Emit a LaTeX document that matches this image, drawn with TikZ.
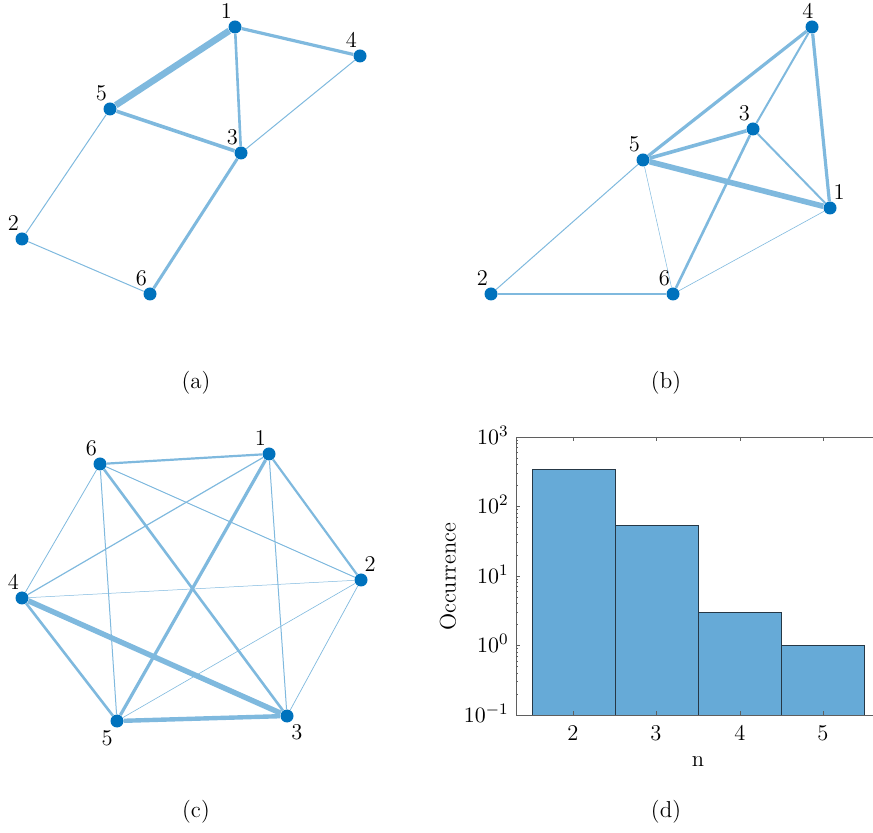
\documentclass[tikz,border=0pt]{standalone}
\usepackage{amsmath}
\usepackage{tikz}
\definecolor{nodeblue}{RGB}{0,114,189}
\definecolor{edgeblue}{RGB}{127,185,222}
\definecolor{barblue}{RGB}{102,170,215}
\definecolor{baredge}{RGB}{38,56,70}
\definecolor{axisgray}{RGB}{95,95,95}
\pgfdeclarelayer{edges}
\pgfsetlayers{edges,main}
\newcommand{\figfont}{\fontsize{11.25}{13.5}\selectfont}
\tikzset{
	vertex/.style={circle, fill=nodeblue, inner sep=0pt, minimum size=6.5pt},
	lbl/.style={inner sep=0.5pt, font=\figfont},
	lnw/.style={label={[lbl, xshift=1.6pt, yshift=1.1pt]above left:#1}},
	lne/.style={label={[lbl, xshift=-1.3pt, yshift=1.1pt]above right:#1}},
	lsw/.style={label={[lbl, xshift=1pt, yshift=-1.5pt]below left:#1}},
	lse/.style={label={[lbl, xshift=-1pt, yshift=-1.2pt]below right:#1}},
	link/.style={draw=edgeblue, line width=#1},
	caption/.style={font=\fontsize{11.5}{14}\selectfont}
}

\begin{document}
\begin{tikzpicture}[x=0.5pt, y=-0.5pt,
		bar/.style={fill=barblue, draw=baredge, line width=0.4pt},
		axis/.style={draw=axisgray, line width=0.35pt},
		ticklbl/.style={font=\figfont, inner sep=1pt}
		]
		\useasboundingbox (0,0) rectangle (873,833);
		
		% (a)
		\node[vertex, lnw=1] (a1) at (235,27) {};
		\node[vertex, lnw=2] (a2) at (22,239) {};
		\node[vertex, lnw=3] (a3) at (241,153) {};
		\node[vertex, lnw=4] (a4) at (360,56) {};
		\node[vertex, lnw=5] (a5) at (110,109) {};
		\node[vertex, lnw=6] (a6) at (150,294) {};
		\begin{pgfonlayer}{edges}
			\draw[link=3.3pt] (a1) -- (a5);
			\draw[link=1.6pt] (a1) -- (a4);
			\draw[link=1.3pt] (a1) -- (a3);
			\draw[link=1.8pt] (a5) -- (a3);
			\draw[link=0.5pt] (a4) -- (a3);
			\draw[link=0.5pt] (a5) -- (a2);
			\draw[link=0.5pt] (a2) -- (a6);
			\draw[link=1.5pt] (a3) -- (a6);
		\end{pgfonlayer}
		\node[caption] (capa) at (196,383) {(a)};
		
		% (b)
		\node[vertex, lne=1] (b1) at (830,208) {};
		\node[vertex, lnw=2] (b2) at (491,294) {};
		\node[vertex, lnw=3] (b3) at (753,129) {};
		\node[vertex, label={[lbl, xshift=-2pt]above:4}] (b4) at (812,27) {};
		\node[vertex, lnw=5] (b5) at (643,160) {};
		\node[vertex, lnw=6] (b6) at (673,294) {};
		\begin{pgfonlayer}{edges}
			\draw[link=1.6pt] (b5) -- (b4);
			\draw[link=1pt] (b4) -- (b3);
			\draw[link=1.6pt] (b4) -- (b1);
			\draw[link=1.8pt] (b5) -- (b3);
			\draw[link=2.8pt] (b5) -- (b1);
			\draw[link=1pt] (b3) -- (b1);
			\draw[link=1.3pt] (b3) -- (b6);
			\draw[link=0.5pt] (b5) -- (b2);
			\draw[link=0.25pt] (b5) -- (b6);
			\draw[link=1pt] (b2) -- (b6);
			\draw[link=0.3pt] (b6) -- (b1);
		\end{pgfonlayer}
		\node[caption] (capb) at (666,383) {(b)};
		
		% (c)
		\node[vertex, lnw=1] (c1) at (269,454) {};
		\node[vertex, lne=2] (c2) at (361,580) {};
		\node[vertex, lse=3] (c3) at (287,716) {};
		\node[vertex, lnw=4] (c4) at (22,598) {};
		\node[vertex, lsw=5] (c5) at (117,721) {};
		\node[vertex, lnw=6] (c6) at (100,464) {};
		\begin{pgfonlayer}{edges}
			\draw[link=1.1pt] (c6) -- (c1);
			\draw[link=0.4pt] (c6) -- (c4);
			\draw[link=0.5pt] (c6) -- (c5);
			\draw[link=1.3pt] (c6) -- (c3);
			\draw[link=0.5pt] (c6) -- (c2);
			\draw[link=0.6pt] (c1) -- (c4);
			\draw[link=1.6pt] (c1) -- (c5);
			\draw[link=0.5pt] (c1) -- (c3);
			\draw[link=1.1pt] (c1) -- (c2);
			\draw[link=0.25pt] (c4) -- (c2);
			\draw[link=2.7pt] (c4) -- (c3);
			\draw[link=1.3pt] (c4) -- (c5);
			\draw[link=2.2pt] (c5) -- (c3);
			\draw[link=0.3pt] (c5) -- (c2);
			\draw[link=0.35pt] (c2) -- (c3);
		\end{pgfonlayer}
		\node[caption] (capc) at (196,812) {(c)};
		
		% (d) histogram, log axis: one decade = 69.5
		\draw[bar] (532,715) rectangle (615,469.6);
		\draw[bar] (615,715) rectangle (698,525);
		\draw[bar] (698,715) rectangle (781,612.3);
		\draw[bar] (781,715) rectangle (864,645.5);
		\draw[axis] (873,437) -- (516,437) -- (516,715) -- (873,715);
		\draw[axis] (573,715) -- ++(0,-4) (656,715) -- ++(0,-4)
			(740,715) -- ++(0,-4) (823,715) -- ++(0,-4);
		\draw[axis] (573,437) -- ++(0,4) (656,437) -- ++(0,4)
			(740,437) -- ++(0,4) (823,437) -- ++(0,4);
		\draw[axis] (516,437) -- ++(4,0) (516,506.5) -- ++(4,0) (516,576) -- ++(4,0)
			(516,645.5) -- ++(4,0) (516,715) -- ++(4,0);
		\foreach \d in {0,1,2,3}
			\foreach \k in {2,...,9}
				\draw[axis] (516,{715-69.5*(\d+ln(\k)/ln(10))}) -- ++(2,0);
		
		\node[ticklbl, anchor=east] (y3) at (511,435) {$10^{3}$};
		\node[ticklbl, anchor=east] (y2) at (511,504.5) {$10^{2}$};
		\node[ticklbl, anchor=east] (y1) at (511,574) {$10^{1}$};
		\node[ticklbl, anchor=east] (y0) at (511,643.5) {$10^{0}$};
		\node[ticklbl, anchor=east] (ym) at (511,713) {$10^{-1}$};
		\node[ticklbl] (x2) at (573,733) {2};
		\node[ticklbl] (x3) at (656,733) {3};
		\node[ticklbl] (x4) at (740,733) {4};
		\node[ticklbl] (x5) at (823,733) {5};
		\node[ticklbl, rotate=90] (ylab) at (448,577) {Occurrence};
		\node[ticklbl] (xlab) at (698,762) {n};
		\node[caption] (capd) at (666,812) {(d)};
	\end{tikzpicture}
\end{document}
